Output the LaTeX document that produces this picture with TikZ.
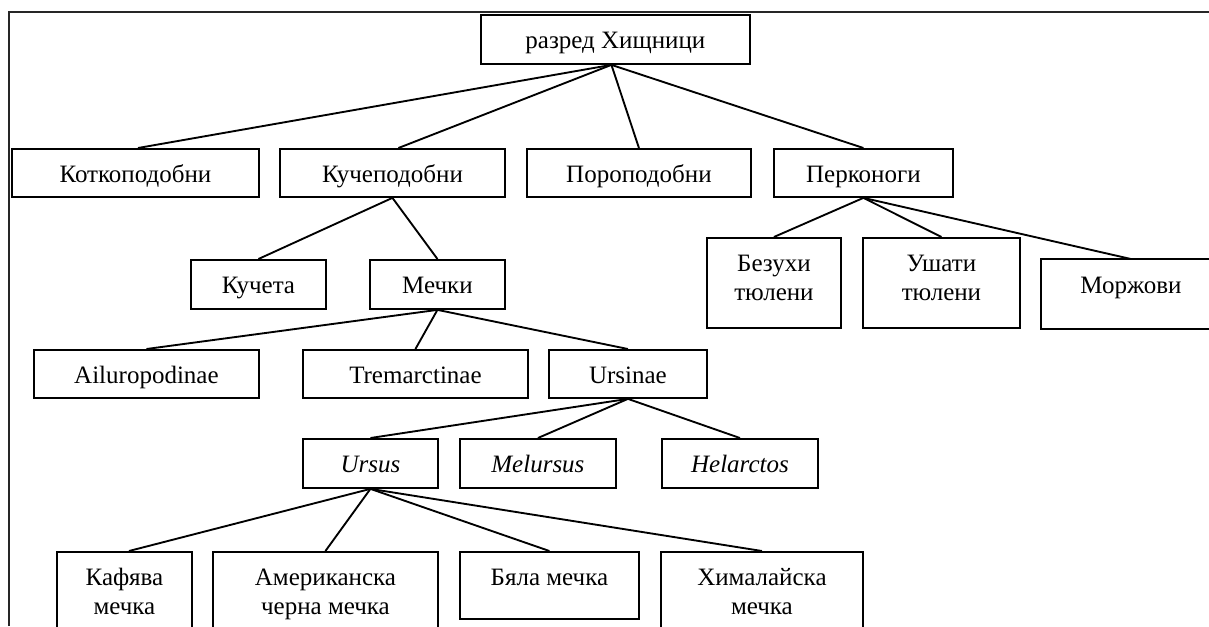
\documentclass[tikz,border=0pt]{standalone}
\usepackage{fontspec}
\setmainfont{Liberation Serif}

% one drawing unit = one pixel of the layout grid
\newdimen\pxu
\pxu=0.75pt

% text block of a box: fixed width and height, lines hung from the top
\newcommand{\boxtext}[3]{%
  \begin{minipage}[t][#2\pxu][t]{#1\pxu}\centering
    \rule{0pt}{34\pxu}#3%
  \end{minipage}}

\tikzset{
  bx/.style={draw, line width=1.4pt, inner sep=0pt, anchor=north west,
             font=\fontsize{18.75pt}{21.75pt}\selectfont},
  openbx/.style={bx, draw=none},
  edge line/.style={line width=1.4pt},
  link/.style={line width=1.4pt},
  frame/.style={line width=1.4pt, draw=black!85},
}

\begin{document}
\begin{tikzpicture}[x=0.75pt, y=-0.75pt]
\useasboundingbox (0,0) rectangle (1209,626);

% surrounding frame (top and left edges)
\draw[frame] (9,626) -- (9,12) -- (1209,12);

% order
\node[bx] (root) at (480,14) {\boxtext{269}{49}{разред Хищници}};

% suborders
\node[bx] (kot)   at (11,148)  {\boxtext{247}{48}{Коткоподобни}};
\node[bx] (kuche) at (279,148) {\boxtext{225}{48}{Кучеподобни}};
\node[bx] (poro)  at (526,148) {\boxtext{224}{48}{Пороподобни}};
\node[bx] (perk)  at (773,148) {\boxtext{179}{48}{Перконоги}};

% families
\node[bx] (kucheta) at (190,259)  {\boxtext{135}{49}{Кучета}};
\node[bx] (mechki)  at (369,259)  {\boxtext{135}{49}{Мечки}};
\node[bx] (bezuhi)  at (706,237)  {\boxtext{134}{90}{Безухи\\тюлени}};
\node[bx] (ushati)  at (862,237)  {\boxtext{157}{90}{Ушати\\тюлени}};
% the walrus box runs past the right edge: only three sides are drawn
\node[openbx] (morzh) at (1041,259) {\boxtext{178}{68}{Моржови}};
\draw[edge line] ([xshift=30pt]morzh.north east) -| (morzh.south west)
                 -- ([xshift=30pt]morzh.south east);

% subfamilies of bears
\node[bx] (ailuro)  at (33,349)  {\boxtext{225}{48}{Ailuropodinae}};
\node[bx] (tremarc) at (302,349) {\boxtext{225}{48}{Tremarctinae}};
\node[bx] (ursinae) at (548,349) {\boxtext{158}{48}{Ursinae}};

% genera
\node[bx] (ursus)     at (302,438) {\boxtext{135}{49}{\textit{Ursus}}};
\node[bx] (melursus)  at (459,438) {\boxtext{156}{49}{\textit{Melursus}}};
\node[bx] (helarctos) at (661,438) {\boxtext{156}{49}{\textit{Helarctos}}};

% species
\node[bx] (kafyava) at (56,551)  {\boxtext{135}{90}{Кафява\\мечка}};
\node[bx] (amer)    at (212,551) {\boxtext{225}{90}{Американска\\черна мечка}};
\node[bx] (byala)   at (459,551) {\boxtext{179}{67}{Бяла мечка}};
\node[bx] (himal)   at (660,551) {\boxtext{202}{90}{Хималайска\\мечка}};

% connectors
\draw[link] ([xshift=-3pt]root.south) -- ([xshift=1.9pt]kot.north);
\draw[link] ([xshift=-3pt]root.south) -- ([xshift=4.5pt]kuche.north);
\draw[link] ([xshift=-3pt]root.south) -- (poro.north);
\draw[link] ([xshift=-3pt]root.south) -- (perk.north);

\draw[link] (kuche.south) -- (kucheta.north);
\draw[link] (kuche.south) -- (mechki.north);

\draw[link] (perk.south) -- (bezuhi.north);
\draw[link] (perk.south) -- (ushati.north);
\draw[link] (perk.south) -- (morzh.north);

\draw[link] (mechki.south) -- (ailuro.north);
\draw[link] (mechki.south) -- (tremarc.north);
\draw[link] (mechki.south) -- (ursinae.north);

\draw[link] (ursinae.south) -- (ursus.north);
\draw[link] (ursinae.south) -- (melursus.north);
\draw[link] (ursinae.south) -- (helarctos.north);

\draw[link] (ursus.south) -- ([xshift=3.4pt]kafyava.north);
\draw[link] (ursus.south) -- (amer.north);
\draw[link] (ursus.south) -- (byala.north);
\draw[link] (ursus.south) -- (himal.north);
\end{tikzpicture}
\end{document}
